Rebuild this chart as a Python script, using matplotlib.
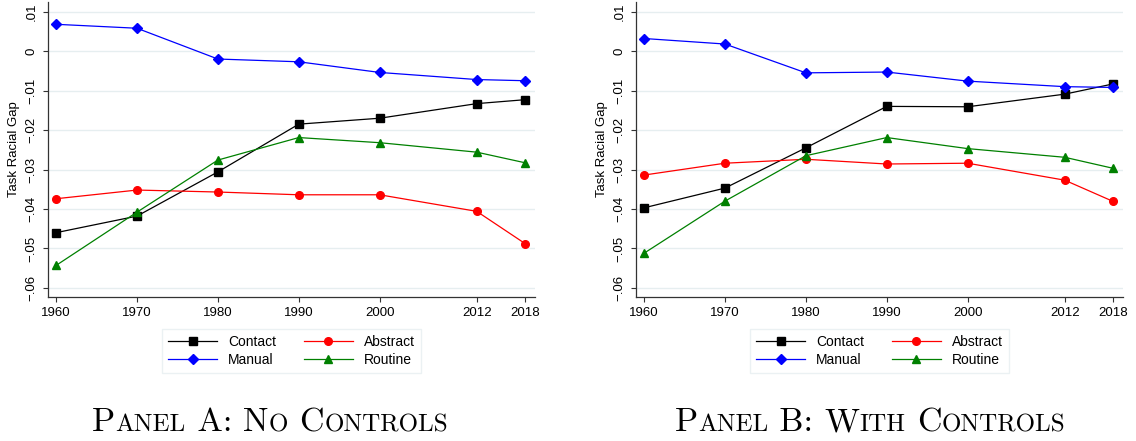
import matplotlib
matplotlib.use("Agg")
import matplotlib.pyplot as plt
from matplotlib.ticker import FixedLocator, FuncFormatter

# Data
years = [1960, 1970, 1980, 1990, 2000, 2012, 2018]

a_contact = [-0.0460, -0.0418, -0.0306, -0.0185, -0.0170, -0.0133, -0.0123]
a_abstract = [-0.0374, -0.0352, -0.0357, -0.0364, -0.0364, -0.0406, -0.0488]
a_manual = [0.0068, 0.0058, -0.0020, -0.0027, -0.0054, -0.0072, -0.0075]
a_routine = [-0.0543, -0.0408, -0.0276, -0.0219, -0.0232, -0.0256, -0.0283]

b_contact = [-0.0397, -0.0347, -0.0245, -0.0140, -0.0141, -0.0109, -0.0083]
b_abstract = [-0.0314, -0.0284, -0.0274, -0.0286, -0.0284, -0.0327, -0.0381]
b_manual = [0.0032, 0.0018, -0.0055, -0.0053, -0.0076, -0.0090, -0.0092]
b_routine = [-0.0512, -0.0380, -0.0265, -0.0219, -0.0247, -0.0269, -0.0297]

y_ticks = [0.01, 0.0, -0.01, -0.02, -0.03, -0.04, -0.05, -0.06]
titles = [
    [("P", 1), ("ANEL", 0), (" A: ", 1), ("N", 1), ("O", 0), (" ", 1), ("C", 1), ("ONTROLS", 0)],
    [("P", 1), ("ANEL", 0), (" B: ", 1), ("W", 1), ("ITH", 0), (" ", 1), ("C", 1), ("ONTROLS", 0)],
]

SANS = "Liberation Sans"
GRID = "#e6eef0"
W, H = 1136, 441


def fmt_tick(v, pos):
    if abs(v) < 1e-9:
        return "0"
    s = "%.2f" % v
    s = s.replace("0.", ".")
    return s.replace("-", "\u2212")


fig = plt.figure(figsize=(W / 100, H / 100), dpi=100)

panels = [
    (48, 535, (a_contact, a_abstract, a_manual, a_routine)),
    (636, 1123, (b_contact, b_abstract, b_manual, b_routine)),
]

for i, (x0, x1, series) in enumerate(panels):
    ax = fig.add_axes([x0 / W, 1 - 297 / H, (x1 - x0) / W, 295 / H])
    contact, abstract, manual, routine = series
    h_c, = ax.plot(years, contact, color="black", marker="s", label="Contact", markersize=6, linewidth=0.9)
    h_a, = ax.plot(years, abstract, color="red", marker="o", label="Abstract", markersize=5.5, linewidth=0.9)
    h_m, = ax.plot(years, manual, color="blue", marker="D", label="Manual", markersize=5.5, linewidth=0.9)
    h_r, = ax.plot(years, routine, color="green", marker="^", label="Routine", markersize=6, linewidth=0.9)

    ax.set_xlim(1959, 2019.2)
    ax.set_ylim(-0.0623, 0.01245)
    ax.xaxis.set_major_locator(FixedLocator(years))
    ax.yaxis.set_major_locator(FixedLocator(y_ticks))
    ax.yaxis.set_major_formatter(FuncFormatter(fmt_tick))
    ax.grid(axis="y", color=GRID, linewidth=1.0)
    ax.set_axisbelow(True)
    for s in ["top", "right"]:
        ax.spines[s].set_visible(False)
    for s in ["left", "bottom"]:
        ax.spines[s].set_color("#333333")
        ax.spines[s].set_linewidth(0.9)
    ax.tick_params(axis="both", direction="out", length=3.5, width=0.8, color="#333333",
                   labelsize=9.5, labelcolor="black")
    ax.tick_params(axis="y", pad=4)
    ax.tick_params(axis="x", pad=4)
    for lab in ax.get_yticklabels():
        lab.set_rotation(90)
        lab.set_va("center")
        lab.set_family(SANS)
    for lab in ax.get_xticklabels():
        lab.set_family(SANS)
    ax.set_ylabel("Task Racial Gap", fontsize=9.5, family=SANS, labelpad=4)

    cx = (x0 + x1) / 2 / W
    leg = fig.legend([h_c, h_m, h_a, h_r], ["Contact", "Manual", "Abstract", "Routine"],
                     ncol=2, loc="upper center", bbox_to_anchor=(cx, 1 - 329 / H),
                     prop={"family": SANS, "size": 10}, frameon=True, fancybox=False,
                     handlelength=3.5, columnspacing=2.0, handletextpad=0.8,
                     labelspacing=0.25, borderpad=0.45, borderaxespad=0)
    leg.get_frame().set_edgecolor(GRID)
    leg.get_frame().set_linewidth(1.0)

# panel titles in small caps (Computer Modern)
renderer = fig.canvas.get_renderer()
big, small = 24.5, 18
centers = [270, 870]
for segs, cx in zip(titles, centers):
    texts = []
    for s, is_big in segs:
        t = fig.text(0, 0, s, fontsize=big if is_big else small, family="cmr10",
                     ha="left", va="baseline")
        texts.append(t)
    widths = [t.get_window_extent(renderer).width for t in texts]
    total = sum(widths)
    x = cx - total / 2
    for t, w in zip(texts, widths):
        t.set_position((x / W, 1 - 431 / H))
        x += w

fig.savefig("out.png", dpi=100)
